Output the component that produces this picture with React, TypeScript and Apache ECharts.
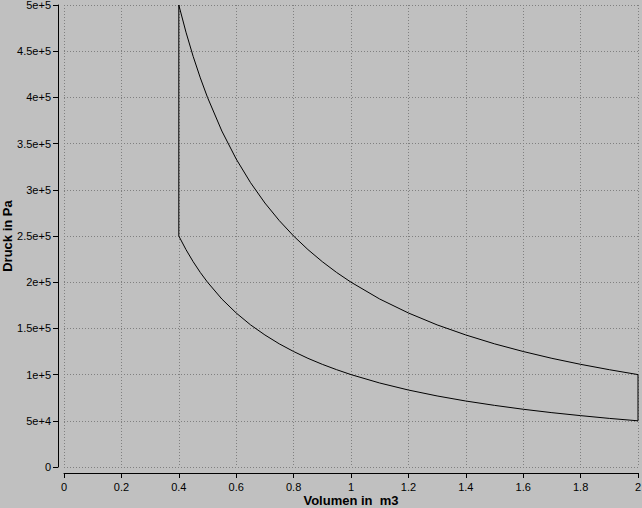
import React, { useEffect, useRef } from "react";
import * as echarts from "echarts";

const volumes = [0.4, 0.425, 0.45, 0.475, 0.5, 0.55, 0.6, 0.65, 0.7, 0.75, 0.8, 0.85, 0.9, 0.95, 1.0, 1.1, 1.2, 1.3, 1.4, 1.5, 1.6, 1.7, 1.8, 1.9, 2.0];
const upperPressure = [500000, 470600, 444400, 421100, 400000, 363600, 333300, 307700, 285700, 266700, 250000, 235300, 222200, 210500, 200000, 181800, 166700, 153800, 142900, 133300, 125000, 117600, 111100, 105300, 100000];
const lowerPressure = [250000, 235300, 222200, 210500, 200000, 181800, 166700, 153800, 142900, 133300, 125000, 117600, 111100, 105300, 100000, 90900, 83300, 76900, 71400, 66700, 62500, 58800, 55600, 52600, 50000];
const leftEdge: [number, number][] = [[0.4, 250000], [0.4, 500000]];
const rightEdge: [number, number][] = [[2.0, 50000], [2.0, 100000]];

const xTitle = "Volumen in  m3";
const yTitle = "Druck in Pa";

function expLabel(v: number): string {
  if (v === 0) return "0";
  const e = Math.floor(Math.log10(Math.abs(v)) + 1e-9);
  const m = Math.round((v / Math.pow(10, e)) * 1000) / 1000;
  return `${m}e+${e}`;
}

export default function App() {
  const ref = useRef<HTMLDivElement>(null);
  useEffect(() => {
    if (!ref.current) return;
    const chart = echarts.init(ref.current, undefined, { renderer: "svg" });
    const font = "Liberation Sans, Arial, sans-serif";
    const lineStyle = { color: "#000", width: 1 };
    chart.setOption({
      animation: false,
      backgroundColor: "#c0c0c0",
      grid: { left: 64, right: 4, top: 5, bottom: 41, containLabel: false, outerBoundsMode: "none" },
      xAxis: {
        type: "value",
        min: 0,
        max: 2,
        interval: 0.2,
        offset: 6,
        name: xTitle,
        nameLocation: "middle",
        nameGap: 21,
        nameMoveOverlap: false,
        nameTextStyle: { color: "#000", fontWeight: "bold", fontSize: 13, fontFamily: font, verticalAlign: "top" },
        axisLine: { show: true, onZero: false, lineStyle: { color: "#000", width: 1 } },
        axisTick: { show: true, length: 5, lineStyle: { color: "#000" } },
        axisLabel: {
          color: "#000",
          fontSize: 11,
          fontFamily: font,
          margin: 8,
          formatter: (v: number) => String(Math.round(v * 10) / 10),
        },
        splitLine: { show: true, lineStyle: { color: "#808080", type: [1, 2], width: 1 } },
      },
      yAxis: {
        type: "value",
        min: 0,
        max: 500000,
        interval: 50000,
        offset: 6,
        name: yTitle,
        nameLocation: "middle",
        nameGap: 44,
        nameMoveOverlap: false,
        nameTextStyle: { color: "#000", fontWeight: "bold", fontSize: 13, fontFamily: font },
        axisLine: { show: true, onZero: false, lineStyle: { color: "#000", width: 1 } },
        axisTick: { show: true, length: 5, lineStyle: { color: "#000" } },
        axisLabel: { color: "#000", fontSize: 11, fontFamily: font, margin: 7, formatter: expLabel },
        splitLine: { show: true, lineStyle: { color: "#808080", type: [1, 2], width: 1 } },
      },
      series: [
        {
          type: "line",
          data: volumes.map((v, i) => [v, upperPressure[i]]),
          showSymbol: false,
          lineStyle,
        },
        {
          type: "line",
          data: volumes.map((v, i) => [v, lowerPressure[i]]),
          showSymbol: false,
          lineStyle,
        },
        { type: "line", data: leftEdge, showSymbol: false, lineStyle },
        { type: "line", data: rightEdge, showSymbol: false, lineStyle },
      ],
    });
    return () => chart.dispose();
  }, []);
  return <div ref={ref} style={{ position: "fixed", left: 0, top: 0, width: 642, height: 508 }} />;
}
